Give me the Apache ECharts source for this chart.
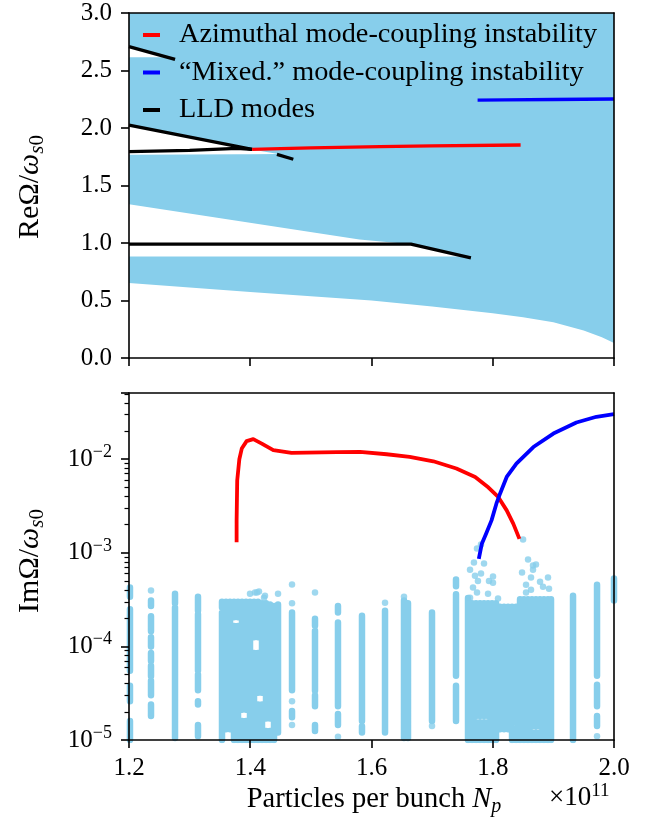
<!DOCTYPE html>
<html><head><meta charset="utf-8">
<script src="https://cdn.jsdelivr.net/npm/echarts@6/dist/echarts.min.js"></script>
<style>html,body{margin:0;padding:0;background:#fff}#c{width:650px;height:817px}</style>
</head><body><div id="c"></div><script>
// ---------- DATA ----------
// x ticks (units of 1e11 particles)
const xTickVals = [1.2, 1.4, 1.6, 1.8, 2.0];
// Top panel: continuum band (Re) lower edge, upper edge
const bandX    = [1.2, 1.3, 1.4, 1.5, 1.6, 1.7, 1.8, 1.85, 1.9, 1.95, 1.98, 2.0];
const bandLow  = [0.652, 0.613, 0.575, 0.537, 0.500, 0.448, 0.390, 0.355, 0.310, 0.240, 0.180, 0.130];
const bandHigh = [3.0, 3.0, 3.0, 3.0, 3.0, 3.0, 3.0, 3.0, 3.0, 3.0, 3.0, 3.0];
// gaps in the continuum
const gapAX = [1.2, 1.263];                 const gapALow = [2.616, 2.616];          const gapAHigh = [2.707, 2.616];
const gapBX = [1.2, 1.3, 1.378, 1.4, 1.444]; const gapBLow = [1.767, 1.769, 1.771, 1.772, 1.775]; const gapBHigh = [2.026, 1.921, 1.84, 1.815, 1.776];
const gapCX = [1.2, 1.58, 1.665, 1.752];     const gapCLow = [0.883, 0.883, 0.883, 0.883]; const gapCHigh = [1.337, 1.03, 0.99, 0.883];
// LLD modes (Re)
const lldAX = [1.2, 1.276];           const lldAY = [2.707, 2.597];
const lldBX = [1.2, 1.378, 1.403];    const lldBY = [2.026, 1.84, 1.815];
const lldCX = [1.2, 1.3, 1.378, 1.403]; const lldCY = [1.795, 1.805, 1.822, 1.815];
const lldDX = [1.444, 1.471];         const lldDY = [1.771, 1.728];
const lldEX = [1.2, 1.665, 1.764];    const lldEY = [0.99, 0.99, 0.87];
// Azimuthal (red) and mixed (blue) Re
const azReX = [1.403, 1.45, 1.5, 1.614, 1.7, 1.846];
const azReY = [1.815, 1.821, 1.827, 1.838, 1.844, 1.852];
const mxReX = [1.775, 1.82, 1.9, 2.0];
const mxReY = [2.243, 2.245, 2.248, 2.252];
// Im parts
const azImX = [1.3775, 1.3775, 1.3785, 1.382, 1.386, 1.394, 1.405, 1.419, 1.438, 1.468, 1.543, 1.581, 1.625, 1.663, 1.702, 1.740, 1.771, 1.793, 1.809, 1.823, 1.834, 1.844];
const azImY = [1.30e-3, 2.22e-3, 5.95e-3, 1.0e-2, 1.30e-2, 1.56e-2, 1.64e-2, 1.47e-2, 1.25e-2, 1.17e-2, 1.19e-2, 1.2e-2, 1.13e-2, 1.06e-2, 9.5e-3, 7.95e-3, 6.46e-3, 4.98e-3, 3.95e-3, 2.84e-3, 2.04e-3, 1.41e-3];
const mxImX = [1.777, 1.782, 1.789, 1.798, 1.806, 1.812, 1.823, 1.839, 1.867, 1.900, 1.938, 1.971, 2.0];
const mxImY = [8.6e-4, 1.25e-3, 1.6e-3, 2.22e-3, 3.35e-3, 4.28e-3, 6.46e-3, 8.98e-3, 1.35e-2, 1.88e-2, 2.47e-2, 2.84e-2, 3.03e-2];
// Incoherent (continuum) Im points: columns at scan values, runs of overlapping dots [top, bottom]
const colX = [1.2016, 1.2363, 1.2759, 1.3138, 1.4689, 1.5068, 1.5447, 1.5843, 1.6223, 1.6536, 1.6602, 1.6998, 1.7394, 1.9324, 1.972, 2.0];
const colRuns = [
  [[4.25e-4, 3.4e-4], [2.5e-4, 5.5e-5], [3.8e-5, 2.6e-5], [1.6e-5, 1.0e-5]],
  [[3.95e-4, 3.95e-4], [3.1e-4, 2.7e-4], [2.1e-4, 1.45e-4], [1.25e-4, 1.0e-4], [8.5e-5, 7.0e-5], [6.2e-5, 4.8e-5], [4.3e-5, 3.0e-5], [2.4e-5, 1.8e-5]],
  [[3.66e-4, 2.9e-4], [2.6e-4, 1.05e-5]],
  [[3.4e-4, 2.4e-4], [2.2e-4, 5.5e-5], [5.0e-5, 3.4e-5], [2.6e-5, 2.4e-5], [1.45e-5, 1.1e-5]],
  [[4.6e-4, 4.6e-4], [2.9e-4, 2.9e-4], [2.3e-4, 3.4e-5], [2.6e-5, 2.6e-5], [2.04e-5, 1.75e-5], [1.45e-5, 1.45e-5]],
  [[3.76e-4, 3.76e-4], [1.98e-4, 1.66e-4], [1.47e-4, 3.35e-5], [3.0e-5, 2.3e-5], [1.45e-5, 1.25e-5]],
  [[2.7e-4, 2.3e-4], [1.8e-4, 2.3e-5], [1.9e-5, 1.45e-5], [1.08e-5, 1.08e-5]],
  [[2.13e-4, 1.6e-5], [1.4e-5, 1.2e-5]],
  [[2.93e-4, 2.93e-4], [2.4e-4, 1.2e-5]],
  [[3.4e-4, 3.4e-4], [3.1e-4, 1.05e-5]],
  [[2.9e-4, 1.05e-5]],
  [[2.3e-4, 1.6e-5], [1.41e-5, 1.41e-5]],
  [[5.2e-4, 4.4e-4], [3.6e-4, 4.85e-5], [3.8e-5, 1.6e-5]],
  [[3.48e-4, 1.0e-5]],
  [[4.57e-4, 4.85e-5], [3.9e-5, 2.3e-5], [1.8e-5, 1.41e-5], [1.1e-5, 1.1e-5]],
  [[5.3e-4, 3.1e-4]]
];
// dense scan region 1
const dense1X = [1.3534, 1.36, 1.3666, 1.3732, 1.3798, 1.3864, 1.393, 1.3996, 1.4062, 1.4128, 1.4194, 1.426, 1.4326, 1.4392, 1.4458];
const dense1Runs = [
  [[3.0e-4, 2.6e-4], [2.3e-4, 1.0e-5]],
  [[3.0e-4, 1.3e-5]],
  [[3.0e-4, 1.3e-5]],
  [[3.0e-4, 2.05e-4], [1.65e-4, 1.0e-5]],
  [[3.0e-4, 2.05e-4], [1.65e-4, 1.0e-5]],
  [[3.0e-4, 2.1e-5], [1.6e-5, 1.0e-5]],
  [[3.0e-4, 2.1e-5], [1.6e-5, 1.0e-5]],
  [[3.0e-4, 1.0e-5]],
  [[3.0e-4, 1.25e-4], [8.5e-5, 1.0e-5]],
  [[3.0e-4, 1.25e-4], [8.5e-5, 3.2e-5], [2.4e-5, 1.0e-5]],
  [[2.9e-4, 3.2e-5], [2.4e-5, 1.0e-5]],
  [[2.9e-4, 1.7e-5], [1.25e-5, 1.0e-5]],
  [[2.8e-4, 1.7e-5], [1.25e-5, 1.0e-5]],
  [[2.7e-4, 1.0e-5]],
  [[2.8e-4, 1.2e-5]]
];
// dense scan region 2
const dense2X = [1.7592, 1.7658, 1.7724, 1.779, 1.7856, 1.7922, 1.7988, 1.8054, 1.812, 1.8186, 1.8252, 1.8318, 1.8384, 1.845, 1.8515, 1.8581, 1.8647, 1.8713, 1.8779, 1.8845, 1.8911, 1.8961];
const dense2Runs = [
  [[3.3e-4, 1.0e-5]],
  [[2.9e-4, 1.0e-5]],
  [[2.9e-4, 1.8e-5], [1.55e-5, 1.0e-5]],
  [[2.9e-4, 1.8e-5], [1.55e-5, 1.0e-5]],
  [[2.9e-4, 1.8e-5], [1.55e-5, 1.0e-5]],
  [[2.9e-4, 1.8e-5], [1.55e-5, 1.0e-5]],
  [[2.9e-4, 1.0e-5]],
  [[2.9e-4, 1.0e-5]],
  [[2.65e-4, 1.3e-5]],
  [[2.65e-4, 1.3e-5]],
  [[2.65e-4, 1.3e-5]],
  [[2.65e-4, 1.55e-5], [1.35e-5, 1.0e-5]],
  [[2.65e-4, 1.55e-5], [1.35e-5, 1.0e-5]],
  [[3.2e-4, 1.0e-5]],
  [[3.2e-4, 1.0e-5]],
  [[3.2e-4, 1.0e-5]],
  [[3.2e-4, 1.4e-5], [1.2e-5, 1.0e-5]],
  [[3.2e-4, 1.4e-5], [1.2e-5, 1.0e-5]],
  [[3.2e-4, 1.4e-5], [1.2e-5, 1.0e-5]],
  [[3.2e-4, 1.0e-5]],
  [[3.2e-4, 1.0e-5]],
  [[3.2e-4, 1.0e-5]]
];
// isolated points
const looseX = [1.3996, 1.4078, 1.4144, 1.4227, 1.4243, 1.4458, 1.4111,
  1.769, 1.7856, 1.7625, 1.7707, 1.7806, 1.8004, 1.7756, 1.7938, 1.8004, 1.7674, 1.774, 1.7922, 1.7625, 1.8087, 1.774, 1.7806,
  1.85, 1.8582, 1.8713, 1.8664, 1.8483, 1.8664, 1.8549, 1.8631, 1.878, 1.8911, 1.8829, 1.8928, 1.8549, 1.8631];
const looseY = [3.66e-4, 3.76e-4, 3.85e-4, 3.32e-4, 3.48e-4, 3.66e-4, 3.76e-4,
  7.9e-4, 7.7e-4, 6.6e-4, 5.7e-4, 6.0e-4, 5.6e-4, 5.0e-4, 5.0e-4, 4.8e-4, 4.25e-4, 3.76e-4, 3.66e-4, 3.32e-4, 3.24e-4, 1.11e-3, 1.23e-3,
  1.39e-3, 8.5e-4, 7.5e-4, 7.3e-4, 6.15e-4, 6.6e-4, 4.57e-4, 5.45e-4, 4.9e-4, 5.45e-4, 4.35e-4, 4.14e-4, 3.76e-4, 4.04e-4];
// log-axis decades and minor multipliers
const decades = [1e-5, 1e-4, 1e-3, 1e-2];
const minorMult = [2, 3, 4, 5, 6, 7, 8, 9];

// ---------- STYLE ----------
const FONT = 'Liberation Serif';
const SKY = '#87CEEB';
const AX = {color: '#000', width: 1.6};
const yMaxIm = 0.051;

// ---------- BUILD ----------
function polySeries(xs, hi, lo, color) {
  return {type: 'custom', xAxisIndex: 0, yAxisIndex: 0, silent: true, z: 1, clip: true,
    data: [[xs[0], lo[0]]],
    renderItem: function (params, api) {
      const pts = [];
      for (let i = 0; i < xs.length; i++) pts.push(api.coord([xs[i], hi[i]]));
      for (let i = xs.length - 1; i >= 0; i--) pts.push(api.coord([xs[i], lo[i]]));
      return {type: 'polygon', shape: {points: pts}, style: {fill: color, stroke: null}};
    }};
}
function lineSeries(name, xs, ys, color, width, xi, yi, z) {
  return {name: name, type: 'line', xAxisIndex: xi, yAxisIndex: yi, z: z, silent: true,
    data: xs.map((x, i) => [x, ys[i]]), symbol: 'none', showSymbol: false,
    lineStyle: {color: color, width: width, cap: 'butt', join: 'round'}, itemStyle: {color: color}};
}
const runData = [], dotData = [];
function addRuns(xs, runs) {
  xs.forEach((x, i) => runs[i].forEach(r => {
    if (r[0] === r[1]) dotData.push([x, r[0]]);
    else { runData.push([x, r[0]]); runData.push([x, r[1]]); runData.push([x, '-']); }
  }));
}
addRuns(colX, colRuns); addRuns(dense1X, dense1Runs); addRuns(dense2X, dense2Runs);
looseX.forEach((x, i) => dotData.push([x, looseY[i]]));

const minorTicks = [];
decades.forEach(d => minorMult.forEach(m => { const v = m * d; if (v < yMaxIm) minorTicks.push(Math.log10(v)); }));

const labelBase = {fontFamily: FONT, fontSize: 25, color: '#000'};
function spineX(grid, pos) {
  return {gridIndex: grid, type: 'value', min: 1.2, max: 2.0, position: pos, z: 10,
    axisLine: {show: true, onZero: false, lineStyle: AX}, axisTick: {show: false}, axisLabel: {show: false}, splitLine: {show: false}};
}
const titleRich = {
  r: {fontFamily: FONT, fontSize: 30, lineHeight: 36}, i: {fontFamily: FONT, fontStyle: 'italic', fontSize: 30, lineHeight: 36},
  si: {fontFamily: FONT, fontStyle: 'italic', fontSize: 21, lineHeight: 21, verticalAlign: 'bottom'},
  s0: {fontFamily: FONT, fontSize: 21, lineHeight: 21, verticalAlign: 'bottom'}
};
const option = {
  animation: false,
  backgroundColor: '#fff',
  grid: [
    {left: 129, right: 36, top: 13, height: 345},
    {left: 129, right: 36, top: 393, height: 347}
  ],
  xAxis: [
    {gridIndex: 0, type: 'value', min: 1.2, max: 2.0, interval: 0.2, position: 'bottom', z: 10,
      axisLine: {show: true, onZero: false, lineStyle: AX}, axisTick: {show: true, length: 8, lineStyle: AX},
      axisLabel: {show: false}, splitLine: {show: false}},
    spineX(0, 'top'),
    {gridIndex: 1, type: 'value', min: 1.2, max: 2.0, interval: 0.2, position: 'bottom', z: 10,
      axisLine: {show: true, onZero: false, lineStyle: AX}, axisTick: {show: true, length: 8, lineStyle: AX},
      axisLabel: Object.assign({show: true, margin: 16, formatter: v => v.toFixed(1)}, labelBase), splitLine: {show: false}},
    spineX(1, 'top')
  ],
  yAxis: [
    {gridIndex: 0, type: 'value', min: 0, max: 3, interval: 0.5, position: 'left', z: 10,
      axisLine: {show: true, onZero: false, lineStyle: AX}, axisTick: {show: true, length: 8, lineStyle: AX},
      axisLabel: Object.assign({show: true, margin: 17, formatter: v => v.toFixed(1)}, labelBase), splitLine: {show: false}},
    {gridIndex: 0, type: 'value', min: 0, max: 3, position: 'right', z: 10,
      axisLine: {show: true, onZero: false, lineStyle: AX}, axisTick: {show: false}, axisLabel: {show: false}, splitLine: {show: false}},
    {gridIndex: 1, type: 'log', logBase: 10, min: 1e-5, max: yMaxIm, position: 'left', z: 10,
      axisLine: {show: true, onZero: false, lineStyle: AX}, axisTick: {show: true, length: 8, lineStyle: AX},
      axisLabel: {show: true, margin: 17, color: '#000',
        formatter: function (v) {
          const l = Math.log10(v), e = Math.round(l);
          if (Math.abs(l - e) > 1e-6) return '';
          return '{b|10}{s|\u2212' + (-e) + '}';
        },
        rich: {b: {fontFamily: FONT, fontSize: 25, lineHeight: 32, color: '#000'},
               s: {fontFamily: FONT, fontSize: 18, lineHeight: 18, verticalAlign: 'top', color: '#000'}}},
      splitLine: {show: false}},
    {gridIndex: 1, type: 'value', min: -5, max: Math.log10(yMaxIm), position: 'left', z: 10,
      axisLine: {show: false}, axisTick: {show: true, length: 4.5, lineStyle: {color: '#000', width: 1.2}, customValues: minorTicks},
      axisLabel: {show: false}, splitLine: {show: false}},
    {gridIndex: 1, type: 'value', min: 0, max: 1, position: 'right', z: 10,
      axisLine: {show: true, onZero: false, lineStyle: AX}, axisTick: {show: false}, axisLabel: {show: false}, splitLine: {show: false}}
  ],
  legend: {
    left: 143, top: 21, orient: 'vertical', padding: 0, itemGap: 9.5, itemWidth: 17, itemHeight: 4,
    selectedMode: false,
    textStyle: {fontFamily: FONT, fontSize: 28.3, color: '#000', lineHeight: 28, padding: [0, 0, 0, 14]},
    data: [
      {name: 'Azimuthal mode-coupling instability', icon: 'rect'},
      {name: '\u201cMixed.\u201d mode-coupling instability', icon: 'rect'},
      {name: 'LLD modes', icon: 'rect'}
    ]
  },
  graphic: [
    {type: 'text', x: 30, y: 187, rotation: Math.PI / 2, z: 20,
      style: {text: '{r|Re\u03a9/}{i|\u03c9}{si|s}{s0|0}', textAlign: 'center', textVerticalAlign: 'middle', fill: '#000', rich: titleRich}},
    {type: 'text', x: 30, y: 561, rotation: Math.PI / 2, z: 20,
      style: {text: '{r|Im\u03a9/}{i|\u03c9}{si|s}{s0|0}', textAlign: 'center', textVerticalAlign: 'middle', fill: '#000', rich: titleRich}},
    {type: 'text', x: 374, y: 800, z: 20,
      style: {text: '{r|Particles per bunch }{i|N}{si|p}', textAlign: 'center', textVerticalAlign: 'middle', fill: '#000',
        rich: {r: {fontFamily: FONT, fontSize: 28.5, lineHeight: 34}, i: {fontFamily: FONT, fontStyle: 'italic', fontSize: 28.5, lineHeight: 34},
               si: {fontFamily: FONT, fontStyle: 'italic', fontSize: 20, lineHeight: 20, verticalAlign: 'bottom'}}}},
    {type: 'text', x: 549, y: 798, z: 20,
      style: {text: '{r|\u00d710}{s|11}', textAlign: 'left', textVerticalAlign: 'middle', fill: '#000',
        rich: {r: {fontFamily: FONT, fontSize: 27, lineHeight: 32}, s: {fontFamily: FONT, fontSize: 19, lineHeight: 19, verticalAlign: 'top'}}}}
  ],
  series: [
    polySeries(bandX, bandHigh, bandLow, SKY),
    polySeries(gapAX, gapAHigh, gapALow, '#fff'),
    polySeries(gapBX, gapBHigh, gapBLow, '#fff'),
    polySeries(gapCX, gapCHigh, gapCLow, '#fff'),
    lineSeries('LLD modes', lldAX, lldAY, '#000', 3.3, 0, 0, 3),
    lineSeries('LLD modes', lldBX, lldBY, '#000', 3.3, 0, 0, 3),
    lineSeries('LLD modes', lldCX, lldCY, '#000', 3.3, 0, 0, 3),
    lineSeries('LLD modes', lldDX, lldDY, '#000', 3.3, 0, 0, 3),
    lineSeries('LLD modes', lldEX, lldEY, '#000', 3.3, 0, 0, 3),
    lineSeries('Azimuthal mode-coupling instability', azReX, azReY, '#ff0000', 3.3, 0, 0, 4),
    lineSeries('\u201cMixed.\u201d mode-coupling instability', mxReX, mxReY, '#0000ff', 3.3, 0, 0, 4),
    {name: 'incoherent', type: 'line', xAxisIndex: 2, yAxisIndex: 2, z: 2, silent: true, data: runData,
      symbol: 'none', showSymbol: false, connectNulls: false, clip: true,
      lineStyle: {color: SKY, width: 6.5, cap: 'round'}},
    {name: 'incoherent pts', type: 'scatter', xAxisIndex: 2, yAxisIndex: 2, z: 2, silent: true, data: dotData,
      symbol: 'circle', symbolSize: 6.5, itemStyle: {color: SKY}, clip: true},
    lineSeries('az Im', azImX, azImY, '#ff0000', 3.8, 2, 2, 4),
    lineSeries('mx Im', mxImX, mxImY, '#0000ff', 3.8, 2, 2, 5)
  ]
};
const chart = echarts.init(document.getElementById('c'), null, {renderer: 'canvas'});
chart.setOption(option);
</script></body></html>
